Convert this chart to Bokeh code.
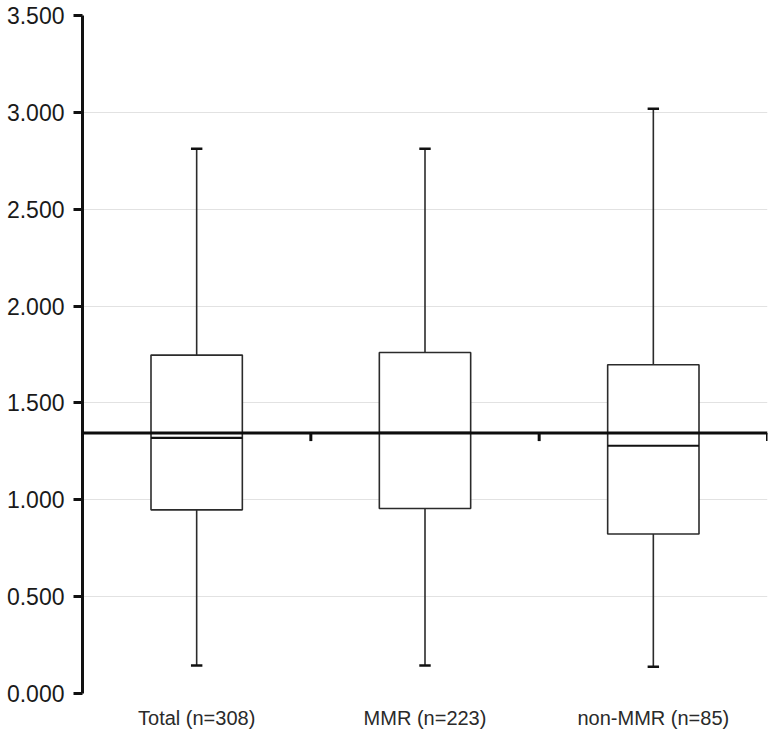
from bokeh.plotting import figure
from bokeh.models import FixedTicker, Span, Range1d, ColumnDataSource
from bokeh.embed import file_html
from bokeh.resources import INLINE

# ---- data ----
categories = ["Total (n=308)", "MMR (n=223)", "non-MMR (n=85)"]
whisker_low = [0.145, 0.145, 0.138]
q1 = [0.948, 0.955, 0.823]
median = [1.320, 1.345, 1.279]
q3 = [1.747, 1.760, 1.697]
whisker_high = [2.812, 2.812, 3.018]
reference_value = 1.345
y_ticks = [0.0, 0.5, 1.0, 1.5, 2.0, 2.5, 3.0, 3.5]
y_tick_labels = ["0.000", "0.500", "1.000", "1.500", "2.000", "2.500", "3.000", "3.500"]

n = len(categories)
centers = [i + 0.5 for i in range(n)]
boundaries = [i + 1 for i in range(n)]

box_w = 0.4
cap_w = 0.05
tick_len = 0.042

p = figure(width=771, height=732, output_backend="svg", toolbar_location=None,
           x_range=Range1d(0, n), y_range=Range1d(0, 3.5),
           min_border_left=82, min_border_right=4, min_border_top=15, min_border_bottom=39)
p.outline_line_color = None
p.background_fill_color = "white"
p.border_fill_color = "white"

# grid
p.xgrid.grid_line_color = None
p.ygrid.grid_line_color = "#e2e2e2"
p.ygrid.grid_line_width = 1.2
p.ygrid.ticker = FixedTicker(ticks=y_ticks)

# y axis
p.yaxis.ticker = FixedTicker(ticks=y_ticks)
p.yaxis.major_label_overrides = {t: s for t, s in zip(y_ticks, y_tick_labels)}
p.yaxis.axis_line_width = 3
p.yaxis.axis_line_color = "#111111"
p.yaxis.major_tick_line_width = 3
p.yaxis.major_tick_line_color = "#111111"
p.yaxis.major_tick_out = 9
p.yaxis.major_tick_in = 0
p.yaxis.minor_tick_line_color = None
p.yaxis.major_label_text_font = "Liberation Sans"
p.yaxis.major_label_text_font_size = "23px"
p.yaxis.major_label_text_color = "#1a1a1a"
p.yaxis.major_label_standoff = 9

# x axis (labels only)
p.xaxis.ticker = FixedTicker(ticks=centers)
p.xaxis.major_label_overrides = {c: s for c, s in zip(centers, categories)}
p.xaxis.axis_line_color = None
p.xaxis.major_tick_line_color = None
p.xaxis.minor_tick_line_color = None
p.xaxis.major_label_text_font = "Liberation Sans"
p.xaxis.major_label_text_font_size = "20px"
p.xaxis.major_label_text_color = "#2a2a2a"
p.xaxis.major_label_standoff = 7

src = ColumnDataSource(dict(x=centers, lo=whisker_low, q1=q1, med=median, q3=q3, hi=whisker_high,
                            left=[c - box_w / 2 for c in centers], right=[c + box_w / 2 for c in centers],
                            cl=[c - cap_w / 2 for c in centers], cr=[c + cap_w / 2 for c in centers]))

line_col = "#2b2b2b"
# whiskers
p.segment(x0="x", y0="q3", x1="x", y1="hi", source=src, line_color=line_col, line_width=1.6)
p.segment(x0="x", y0="lo", x1="x", y1="q1", source=src, line_color=line_col, line_width=1.6)
# caps
p.segment(x0="cl", y0="hi", x1="cr", y1="hi", source=src, line_color="#111111", line_width=2.5)
p.segment(x0="cl", y0="lo", x1="cr", y1="lo", source=src, line_color="#111111", line_width=2.5)
# boxes
p.quad(left="left", right="right", bottom="q1", top="q3", source=src,
       fill_color="white", line_color=line_col, line_width=1.6)
# medians
p.segment(x0="left", y0="med", x1="right", y1="med", source=src, line_color="#111111", line_width=2.2)

# reference line (acts as x axis line)
p.add_layout(Span(location=reference_value, dimension="width", line_color="#0d0d0d", line_width=3))
p.segment(x0=boundaries, y0=[reference_value] * n, x1=boundaries,
          y1=[reference_value - tick_len] * n, line_color="#0d0d0d", line_width=3)

open("out.html", "w").write(file_html(p, INLINE))
